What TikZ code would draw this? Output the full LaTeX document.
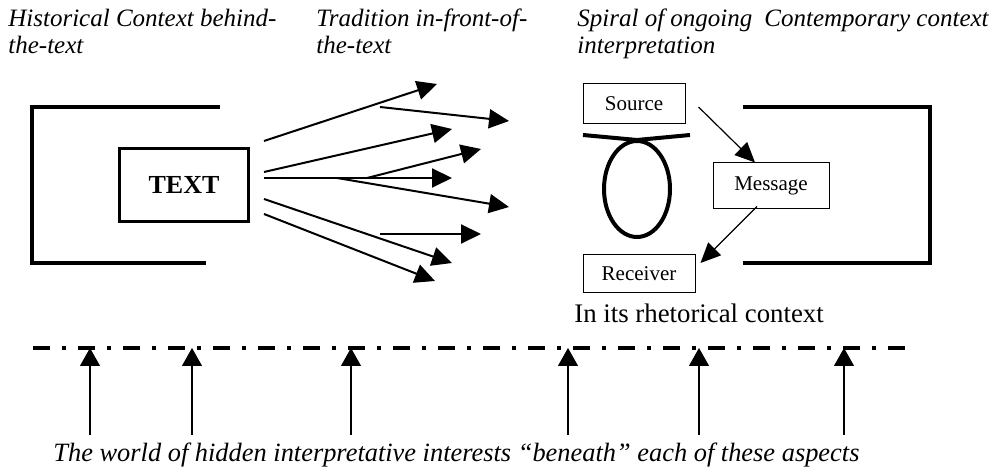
\documentclass[tikz,border=0pt]{standalone}
\usepackage{fontspec}
\setmainfont{Liberation Serif}
\usetikzlibrary{arrows.meta}

\begin{document}
\begin{tikzpicture}[x=0.5pt, y=-0.5pt,
    heading/.style={anchor=base west, inner sep=0pt, align=left, font=\fontsize{12.5}{13.5}\selectfont\itshape},
    bracket/.style={line width=1.7pt},
    msgbox/.style={draw, line width=0.5pt, inner sep=0pt, font=\fontsize{10.5}{12}\selectfont},
    fan/.style={line width=1pt, -{Triangle[length=10pt, width=9.5pt]}},
    flow/.style={line width=0.6pt, -{Triangle[length=10pt, width=9pt]}},
    hidden/.style={line width=0.6pt, -{Triangle[length=9pt, width=10pt]}},
    world/.style={line width=2pt, dash pattern=on 8.5pt off 6pt on 2pt off 6pt}]
    \useasboundingbox (0,0) rectangle (995,469);

    % headings (two-line ones sit on their last baseline)
    \node[heading] (hist) at (8,54) {Historical Context behind-\\the-text};
    \node[heading] (trad) at (316,54) {Tradition in-front-of-\\the-text};
    \node[heading] (spir) at (577,54) {Spiral of ongoing\\interpretation};
    \node[heading] (cont) at (764,27) {Contemporary context};

    % behind the text
    \draw[bracket] (220,107) -- (32,107) -- (32,263) -- (206,263);
    \node[draw, line width=1.35pt, minimum width=64.6pt, minimum height=36.2pt,
          font=\fontsize{13}{14}\selectfont\bfseries] (TEXT) at (184,185) {TEXT};

    % tradition in front of the text
    \coordinate (f1) at (264,141); \coordinate (g1) at (437,84);
    \coordinate (f2) at (380,107); \coordinate (g2) at (509,121);
    \coordinate (f3) at (264,172); \coordinate (g3) at (452,129);
    \coordinate (f4) at (367,178); \coordinate (g4) at (481,149);
    \coordinate (f5) at (264,178); \coordinate (g5) at (452,178);
    \coordinate (f6) at (337,178); \coordinate (g6) at (509,207);
    \coordinate (f7) at (380,234); \coordinate (g7) at (481,234);
    \coordinate (f8) at (264,199); \coordinate (g8) at (452,263);
    \coordinate (f9) at (264,214); \coordinate (g9) at (435,281);
    \draw[fan] (f1) -- (g1);
    \draw[fan] (f2) -- (g2);
    \draw[fan] (f3) -- (g3);
    \draw[fan] (f4) -- (g4);
    \draw[fan] (f5) -- (g5);
    \draw[fan] (f6) -- (g6);
    \draw[fan] (f7) -- (g7);
    \draw[fan] (f8) -- (g8);
    \draw[fan] (f9) -- (g9);

    % spiral of interpretation
    \node[msgbox, minimum width=51pt, minimum height=20pt] (Source) at (634,104) {Source};
    \node[msgbox, minimum width=58pt, minimum height=23pt] (Message) at (771,186) {Message};
    \node[msgbox, minimum width=56pt, minimum height=19pt] (Receiver) at (639,274) {Receiver};
    \draw[line width=2pt] (583,135) -- (637,140) -- (690,135);
    \draw[line width=2pt] (637,189) ellipse [x radius=33, y radius=48];
    \draw[flow] ([shift={(13,3)}]Source.east) -- ([xshift=-8pt]Message.north);
    \draw[flow] ([shift={(-14,-3)}]Message.south) -- ([shift={(5,-11)}]Receiver.east);
    \node[anchor=base west, inner sep=0pt, font=\fontsize{13.4}{15}\selectfont] (rhet) at (574,323) {In its rhetorical context};

    % contemporary context
    \draw[bracket] (743,107) -- (930,107) -- (930,263) -- (743,263);

    % hidden interests
    \coordinate (wl) at (33,348);
    \coordinate (wr) at (915,348);
    \draw[world] (wl) -- (wr);
    \coordinate (h1) at (90,435);
    \coordinate (h2) at (192,435);
    \coordinate (h3) at (351,435);
    \coordinate (h4) at (568,435);
    \coordinate (h5) at (699,435);
    \coordinate (h6) at (844,435);
    \draw[hidden] (h1) -- (h1 |- wl);
    \draw[hidden] (h2) -- (h2 |- wl);
    \draw[hidden] (h3) -- (h3 |- wl);
    \draw[hidden] (h4) -- (h4 |- wl);
    \draw[hidden] (h5) -- (h5 |- wl);
    \draw[hidden] (h6) -- (h6 |- wl);
    \node[anchor=base west, inner sep=0pt, font=\fontsize{13.2}{15}\selectfont\itshape] (under) at (53,462)
        {The world of hidden interpretative interests “beneath” each of these aspects};
\end{tikzpicture}
\end{document}
